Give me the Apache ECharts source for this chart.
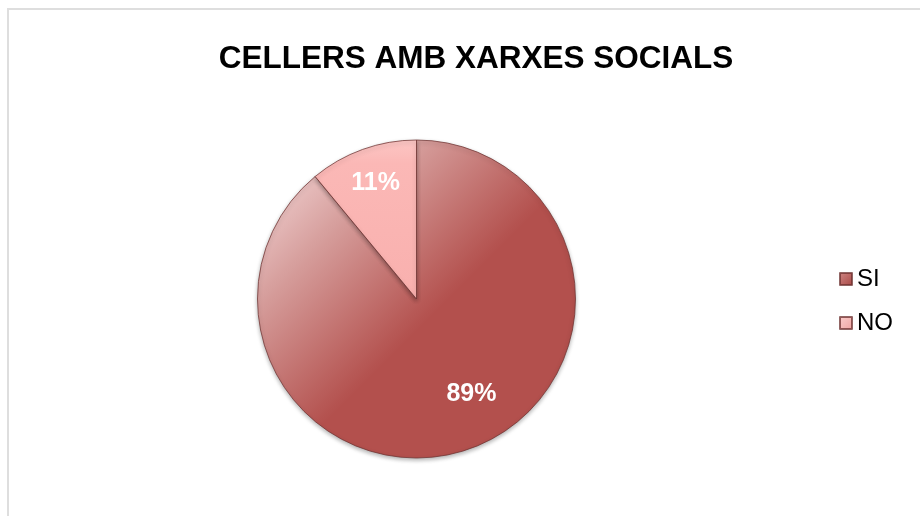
<!DOCTYPE html>
<html>
<head>
<meta charset="utf-8">
<script src="https://cdn.jsdelivr.net/npm/echarts@6/dist/echarts.min.js"></script>
<style>html,body{margin:0;padding:0;background:#fff}#c{width:920px;height:516px}</style>
</head>
<body>
<div id="c"></div>
<script>
const titleText = 'CELLERS AMB XARXES SOCIALS';
const categories = ['SI', 'NO'];
const values = [89, 11];

const chart = echarts.init(document.getElementById('c'));
const fills = [
  {type:'linear', x:0.05, y:0.15, x2:0.5, y2:0.6, colorStops:[
    {offset:0, color:'#EDCACA'}, {offset:0.35, color:'#D69E9C'}, {offset:1, color:'#B3504D'}]},
  {type:'linear', x:0, y:0, x2:0, y2:1, colorStops:[
    {offset:0, color:'#FCC6C4'}, {offset:0.15, color:'#FBB8B6'}, {offset:1, color:'#F9B0AE'}]}
];
const legendFills = [
  {type:'linear', x:0, y:0, x2:1, y2:1, colorStops:[{offset:0,color:'#D08886'},{offset:1,color:'#A84744'}]},
  {type:'linear', x:0, y:0, x2:1, y2:1, colorStops:[{offset:0,color:'#FCCFCD'},{offset:1,color:'#EFA3A1'}]}
];
const offsets = [[27, 17], [-13, -38]];
chart.setOption({
  animation: false,
  graphic: [{type:'rect', shape:{x:8, y:9, width:1200, height:1200}, style:{fill:'none', stroke:'#DEDEDE', lineWidth:2}, silent:true}],
  title: {text: titleText, left: 471, textAlign: 'center', top: 38,
    textStyle: {fontFamily: 'Liberation Sans, Arial', fontWeight: 'bold', fontSize: 31.5, color: '#000'}},
  legend: {orient:'vertical', left: 834, top: 262, itemWidth: 12, itemHeight: 12, itemGap: 20,
    icon: 'rect',
    textStyle: {fontFamily:'Liberation Sans, Arial', fontSize: 24, color:'#000'},
    data: categories.map((c,i)=>({name:c, itemStyle:{color: legendFills[i]}}))},
  series: [{
    type: 'pie',
    center: [416.5, 299],
    radius: [0, 159],
    startAngle: 90,
    clockwise: true,
    label: {show:true, position:'inside', formatter:'{d}%', color:'#fff', fontFamily:'Liberation Sans, Arial', fontWeight:'bold', fontSize:25},
    labelLine: {show:false},
    itemStyle: {borderColor:'rgba(110,50,48,0.75)', borderWidth:1, shadowBlur:4, shadowOffsetY:2, shadowColor:'rgba(0,0,0,0.3)'},
    emphasis: {disabled:true},
    data: categories.map((c,i)=>({name:c, value:values[i], itemStyle:{color:fills[i]}, label:{offset:offsets[i]}}))
  }]
});
</script>
</body>
</html>
